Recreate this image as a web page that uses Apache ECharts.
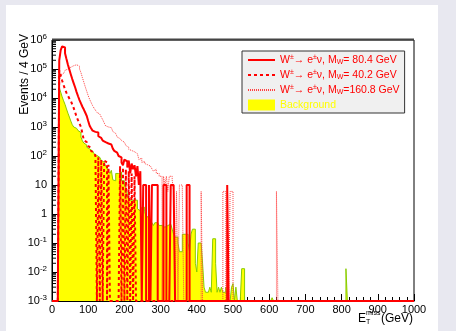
<!DOCTYPE html>
<html>
<head>
<meta charset="utf-8">
<script src="https://cdn.jsdelivr.net/npm/echarts@6/dist/echarts.min.js"></script>
<style>
  html, body { margin: 0; padding: 0; background: #e8e8f0; }
  #chart { position: absolute; left: 6px; top: 5px; width: 432px; height: 326px; background: #fff; }
</style>
</head>
<body>
<div id="chart"></div>
<script>
// histogram: 4 GeV bins, dense part starts at 20 GeV
const binWidth = 4;
const firstBin = 20;
const yMin = 1e-3;

const w804 = [2.0e5, 4.5e5, 6.0e5, 5.5e5, 3.5e5, 2.2e5, 1.4e5, 9.5e4, 6.5e4, 4.5e4,
  3.2e4, 2.3e4, 1.6e4, 1.15e4, 8.5e3, 6.5e3, 5.0e3, 4.0e3, 3.1e3, 2.4e3,
  1.6e3, 1.1e3, 900, 750, 680, 600, 650, 480, 420, 380,
  340, 300, 290, 270, 260, 250, 215, 180, 150, 130,
  115, 100, 90, 60, 48, 75, 65, 40, 70, 25,
  55, 35, 48, 20, 45, 10, 30, 0, 10, 10];
const w804Spikes = [[268, 10], [276, 10], [280, 10], [284, 10], [288, 10], [308, 10], [312, 10],
  [328, 10], [332, 10], [336, 10], [372, 10], [376, 10], [484, 10]];

const w402 = [9.0e4, 6.0e4, 4.0e4, 2.8e4, 2.0e4, 1.5e4, 1.2e4, 9.5e3, 8.0e3, 6.0e3,
  4.5e3, 3.2e3, 2.2e3, 1.7e3, 1.3e3, 1.0e3, 600, 350, 300, 260,
  220, 190, 150, 130, 120, 100, 0, 90, 0, 75,
  0, 70, 60, 0, 50, 0, 0, 0, 0, 0,
  0, 0, 45, 0, 40, 0, 35, 0, 30, 0,
  25, 0, 20];
const w402Spikes = [];

const w1608 = [4.0e4, 6.0e4, 7.0e4, 8.0e4, 9.0e4, 1.0e5, 1.08e5, 1.15e5, 1.2e5, 1.3e5,
  1.35e5, 1.4e5, 1.35e5, 1.25e5, 1.0e5, 7.5e4, 5.0e4, 3.5e4, 2.4e4, 1.7e4,
  1.2e4, 9.0e3, 7.0e3, 5.5e3, 4.5e3, 3.8e3, 3.2e3, 2.8e3, 2.5e3, 2.2e3,
  1.8e3, 1.4e3, 1.1e3, 1.0e3, 1.0e3, 950, 850, 700, 600, 520,
  450, 400, 380, 340, 300, 260, 230, 200, 170, 155,
  150, 140, 130, 120, 105, 75, 85, 60, 65, 55,
  50, 55, 45, 40, 36, 30, 35, 25, 25, 20,
  20, 0, 20, 10, 20, 6, 20, 20, 15, 6,
  0, 6, 0, 10, 10, 6];
const w1608Spikes = [[412, 6], [472, 6], [476, 6], [492, 6], [496, 6], [620, 6]];

const bkg = [2.2e4, 1.6e4, 1.1e4, 8.0e3, 6.0e3, 4.2e3, 3.0e3, 2.2e3, 1.6e3, 1.2e3,
  1.0e3, 900, 800, 750, 650, 450, 330, 280, 240, 200,
  175, 160, 150, 135, 120, 105, 95, 90, 80, 70,
  62, 55, 45, 38, 30, 25, 32, 15, 14, 25,
  25, 28, 28, 14, 14, 10, 8, 5, 3, 3,
  3, 3, 3, 3, 1.5, 1.3, 1.5, 1.7, 1.7, 1.2,
  0.8, 0.8, 0.8, 0.6, 0.5, 0.4, 0.5, 0.5, 0.5, 0.4,
  0.4, 0.35, 0.35, 0.3, 0.4, 0.4, 0.45, 0.4, 0.3, 0.2,
  0.16, 0.16, 0.1, 0.05, 0.05, 0.2, 0.2, 0.2, 0.2, 0.1,
  0.05, 0.2, 0.3, 0.3, 0.02, 0.01, 0.1, 0.1, 0.1, 0.02,
  0.003, 0.002, 0.002, 0.002, 0.003, 0.002, 0.14, 0.14, 0.02, 0.002,
  0.003, 0.002, 0.003, 0.002, 0.002, 0.003];
const bkgSpikes = [[496, 0.003], [500, 0.004], [508, 0.003], [524, 0.013], [528, 0.013],
  [608, 0.0013], [812, 0.013]];

const xTicks = [0, 100, 200, 300, 400, 500, 600, 700, 800, 900, 1000];
const seriesNames = ['W±→ e±ν, MW= 80.4 GeV', 'W±→ e±ν, MW= 40.2 GeV', 'W±→ e±ν, MW=160.8 GeV', 'Background'];
const legendRich = {
  'W±→ e±ν, MW= 80.4 GeV': 'W{sup|±}→ e{sup|±}ν, M{sub|W}= 80.4 GeV',
  'W±→ e±ν, MW= 40.2 GeV': 'W{sup|±}→ e{sup|±}ν, M{sub|W}= 40.2 GeV',
  'W±→ e±ν, MW=160.8 GeV': 'W{sup|±}→ e{sup|±}ν, M{sub|W}=160.8 GeV',
  'Background': 'Background'
};

function buildHist(dense, spikes) {
  const nBins = 1000 / binWidth;
  const vals = new Array(nBins).fill(0);
  dense.forEach((v, i) => { vals[(firstBin + i * binWidth) / binWidth] = v; });
  spikes.forEach(s => { vals[s[0] / binWidth] = s[1]; });
  const pts = vals.map((v, i) => [i * binWidth, v > 0 ? v : yMin]);
  pts.push([1000, pts[pts.length - 1][1]]);
  return pts;
}

// log minor ticks for the y axis
const minorTicks = [];
for (let d = -3; d < 6; d++) {
  for (let k = 2; k <= 9; k++) minorTicks.push([0, k * Math.pow(10, d)]);
}

const font = 'Liberation Sans, Arial, Helvetica, sans-serif';
const myChart = echarts.init(document.getElementById('chart'));
myChart.setOption({
  animation: false,
  backgroundColor: '#ffffff',
  grid: {
    left: 46, top: 35, width: 362, height: 261,
    show: true, borderColor: '#000', borderWidth: 1, backgroundColor: 'transparent'
  },
  legend: {
    orient: 'vertical',
    left: 236, top: 46,
    backgroundColor: '#f0f0f0',
    borderColor: '#333',
    borderWidth: 1,
    padding: [3, 5, 2, 5],
    itemWidth: 27,
    itemHeight: 11,
    itemGap: 3,
    itemStyle: {opacity: 0},
    data: [
      {name: seriesNames[0], textStyle: {color: '#ff0000'}},
      {name: seriesNames[1], textStyle: {color: '#ff0000'}},
      {name: seriesNames[2], textStyle: {color: '#ff0000'}},
      {name: seriesNames[3], icon: 'rect', itemStyle: {opacity: 1, color: '#ffff00', borderWidth: 0},
        textStyle: {color: '#ffff00'}}
    ],
    formatter: name => legendRich[name],
    textStyle: {
      fontFamily: font, fontSize: 10.5, lineHeight: 12,
      rich: {
        sup: {fontFamily: font, fontSize: 7, lineHeight: 12, padding: [0, 0, 5, 0]},
        sub: {fontFamily: font, fontSize: 7, lineHeight: 12, padding: [5, 0, 0, 0]}
      }
    }
  },
  xAxis: {
    type: 'value',
    min: 0, max: 1000, interval: 100,
    axisLine: {show: true, onZero: false, lineStyle: {color: '#000'}},
    axisTick: {show: true, inside: true, length: 7, lineStyle: {color: '#000'}},
    minorTick: {show: true, splitNumber: 5, length: 4, lineStyle: {color: '#000'}},
    splitLine: {show: false},
    axisLabel: {
      color: '#000', fontFamily: font, fontSize: 11, margin: 3,
      formatter: v => xTicks.indexOf(v) >= 0 ? String(v) : ''
    }
  },
  yAxis: {
    type: 'log',
    logBase: 10,
    min: 1e-3, max: 1e6,
    splitNumber: 9,
    axisLine: {show: true, lineStyle: {color: '#000'}},
    axisTick: {show: true, inside: true, length: 8, lineStyle: {color: '#000'}},
    splitLine: {show: false},
    axisLabel: {
      color: '#000', fontFamily: font, fontSize: 11, margin: 5,
      formatter: v => {
        const e = Math.round(Math.log10(v));
        if (e === 0) return '1';
        if (e === 1) return '10';
        return '10{s|' + e + '}';
      },
      rich: {s: {fontFamily: font, fontSize: 8, color: '#000', padding: [0, 0, 7, 0]}}
    }
  },
  series: [
    {
      name: seriesNames[3], type: 'line', step: 'end', symbol: 'none',
      data: buildHist(bkg, bkgSpikes),
      itemStyle: {color: '#ffff00'},
      lineStyle: {color: '#88cc00', width: 1},
      areaStyle: {color: '#ffff00', opacity: 1, origin: 'start'}
    },
    {
      name: seriesNames[2], type: 'line', step: 'end', symbol: 'none',
      data: buildHist(w1608, w1608Spikes),
      itemStyle: {color: '#ff0000'},
      lineStyle: {color: '#ff4040', width: 1, type: [1, 1]}
    },
    {
      name: seriesNames[1], type: 'line', step: 'end', symbol: 'none',
      data: buildHist(w402, w402Spikes),
      itemStyle: {color: '#ff0000'},
      lineStyle: {color: '#ff0000', width: 2, type: [3, 3]}
    },
    {
      name: seriesNames[0], type: 'line', step: 'end', symbol: 'none',
      data: buildHist(w804, w804Spikes),
      itemStyle: {color: '#ff0000'},
      lineStyle: {color: '#ff0000', width: 2}
    },
    {
      type: 'custom', silent: true,
      data: minorTicks,
      renderItem: (params, api) => {
        const p = api.coord([api.value(0), api.value(1)]);
        return {
          type: 'line',
          shape: {x1: p[0], y1: p[1], x2: p[0] + 4, y2: p[1]},
          style: {stroke: '#000', lineWidth: 1}
        };
      },
      z: 5
    }
  ],
  graphic: [
    // thicker top frame edge like the ROOT pad
    {type: 'line', shape: {x1: 46, y1: 34.5, x2: 408, y2: 34.5}, style: {stroke: '#444', lineWidth: 2}, z: 10},
    {type: 'text', x: 18.5, y: 29, rotation: Math.PI / 2,
      style: {text: 'Events / 4 GeV', font: '12px ' + font, fill: '#000', align: 'right', verticalAlign: 'middle'}},
    {type: 'text', x: 352, y: 314,
      style: {text: 'E', font: '12px ' + font, fill: '#000', align: 'left', verticalAlign: 'middle'}},
    {type: 'text', x: 360, y: 308.5,
      style: {text: 'miss', font: '7px ' + font, fill: '#000', align: 'left', verticalAlign: 'middle'}},
    {type: 'text', x: 360, y: 317.5,
      style: {text: 'T', font: '7px ' + font, fill: '#000', align: 'left', verticalAlign: 'middle'}},
    {type: 'text', x: 407, y: 314,
      style: {text: '(GeV)', font: '12px ' + font, fill: '#000', align: 'right', verticalAlign: 'middle'}}
  ]
});
</script>
</body>
</html>
